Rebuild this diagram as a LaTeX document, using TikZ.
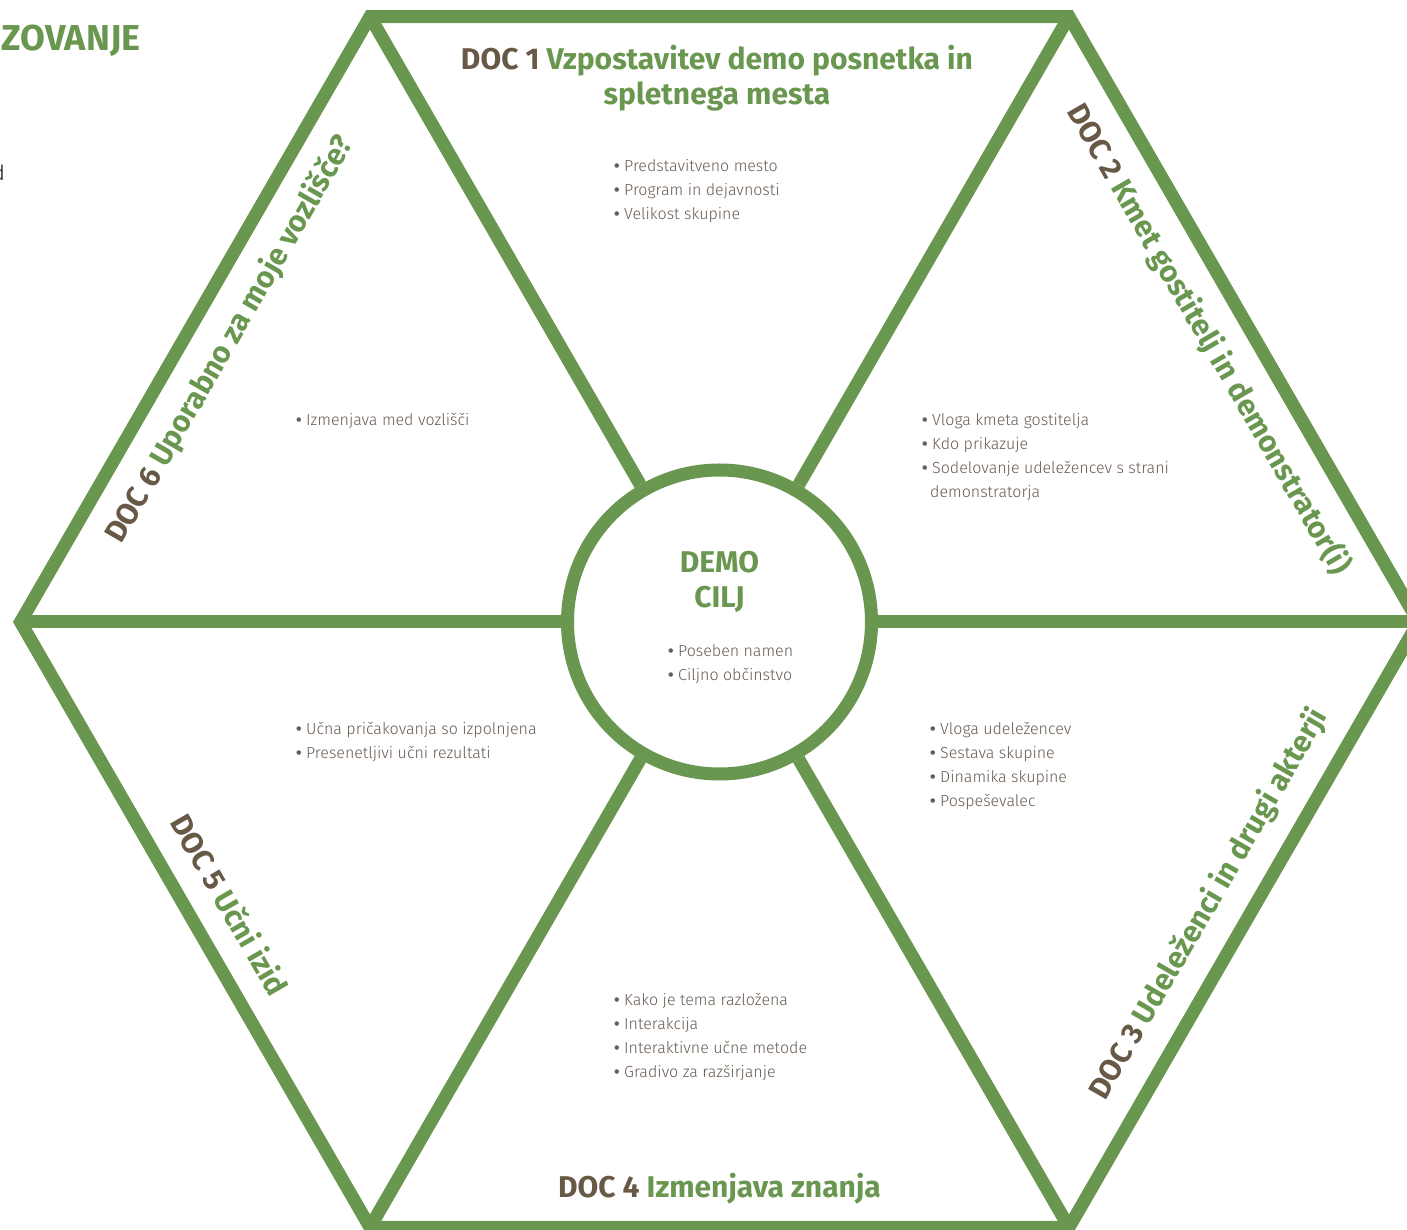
\documentclass[tikz,border=0pt]{standalone}
\usepackage{fontspec}
\setmainfont{Fira Sans}[UprightFont=* Light, BoldFont=* Bold]
\usepackage{tikz}
\usetikzlibrary{positioning}
\definecolor{zelena}{RGB}{106,151,80}
\definecolor{rjava}{RGB}{104,88,70}
\definecolor{besedilo}{RGB}{104,90,80}
\tikzset{okvir/.style={draw=zelena,line width=13pt},
  naslov/.style={font=\fontsize{30}{35}\selectfont\bfseries,text=zelena,align=center,inner sep=0pt},
  seznam/.style={font=\fontsize{16}{24}\selectfont,text=besedilo,align=left,anchor=base west,inner sep=0pt}}
\newcommand{\doc}[1]{\textcolor{rjava}{DOC #1}}
\newcommand{\tocka}{{\bfseries •}\ }

\begin{document}
\begin{tikzpicture}[x=1pt,y=1pt]
  \useasboundingbox (-719.5,-608) rectangle (687.5,622);
  % oglisca sesterokotnika
  \foreach \i in {1,...,6} \coordinate (v\i) at ({60*(\i-1)}:699);
  \node[circle,draw=zelena,line width=13pt,fill=white,minimum size=304pt] (cilj) at (0,0) {};
  \foreach \i in {1,...,6} \draw[okvir] (cilj) -- (v\i); % krakci
  \draw[okvir] (v1) -- (v2) -- (v3) -- (v4) -- (v5) -- (v6) -- cycle;

  % naslovi (base = zadnja vrstica)
  \node[naslov,anchor=base] (doc1) at (-2.5,517) {\doc{1} Vzpostavitev demo posnetka in\\spletnega mesta};
  \foreach \a/\r/\n/\t in {30/-60/2/{Kmet gostitelj in demonstrator(i)},
                           330/60/3/{Udeleženci in drugi akterji},
                           210/-60/5/{Učni izid},
                           150/60/6/{Uporabno za moje vozlišče?}}
    \node[naslov,rotate=\r] (doc\n) at (\a:565) {\doc{\n} \t};
  \node[naslov,anchor=base] (doc4) at (0,-575) {\doc{4} Izmenjava znanja};
  \node[naslov,anchor=base] (demo) at (0,14) {DEMO\\CILJ};

  % seznami
  \node[seznam] (s1) at (-105.5,402) {\tocka Predstavitveno mesto\\\tocka Program in dejavnosti\\\tocka Velikost skupine};
  \node[seznam] (s2) at (202.5,124) {\tocka Vloga kmeta gostitelja\\\tocka Kdo prikazuje\\\tocka Sodelovanje udeležencev s strani\\\hspace*{8pt}demonstratorja};
  \node[seznam] (s3) at (210.5,-185) {\tocka Vloga udeležencev\\\tocka Sestava skupine\\\tocka Dinamika skupine\\\tocka Pospeševalec};
  \node[seznam] (s4) at (-105.5,-455) {\tocka Kako je tema razložena\\\tocka Interakcija\\\tocka Interaktivne učne metode\\\tocka Gradivo za razširjanje};
  \node[seznam] (s5) at (-423.5,-137) {\tocka Učna pričakovanja so izpolnjena\\\tocka Presenetljivi učni rezultati};
  \node[seznam] (s6) at (-423.5,196) {\tocka Izmenjava med vozlišči};
  \node[seznam] (s0) at (-51.5,-59) {\tocka Poseben namen\\\tocka Ciljno občinstvo};

  % odrezano besedilo ob robu
  \node[naslov,anchor=base west,font=\fontsize{36}{38}\selectfont\bfseries] (zov) at (-718,571) {ZOVANJE};
  \node[anchor=base east,inner sep=0pt,text=black,font=\fontsize{21}{24}\selectfont] (d) at (-714.5,441) {d};
\end{tikzpicture}
\end{document}
